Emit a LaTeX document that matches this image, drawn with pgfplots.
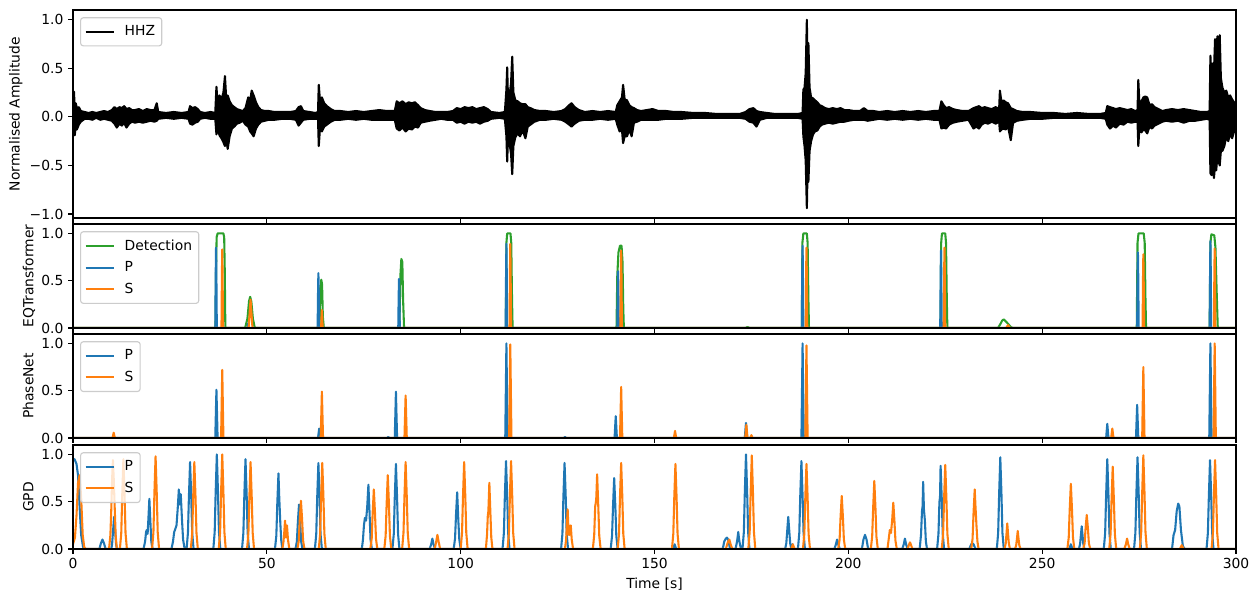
\documentclass[border=0pt]{standalone}
\usepackage{fontspec}
\setmainfont{DejaVu Sans}
\usepackage{pgfplots}
\pgfplotsset{compat=1.18}
\usepackage{pgfplotstable}
\definecolor{tabblue}{HTML}{1F77B4}
\definecolor{taborange}{HTML}{FF7F0E}
\definecolor{tabgreen}{HTML}{2CA02C}

\pgfplotstableread{
t u l
0.0 0.06 -0.04
0.25 0.26 -0.08
0.45 0.08 -0.19
0.7 0.14 -0.10
1.0 0.09 -0.13
1.5 0.10 -0.08
2.0 0.06 -0.05
3.0 0.05 -0.02
4.0 0.04 -0.02
5.0 0.05 -0.03
6.0 0.04 -0.01
7.0 0.05 -0.03
8.0 0.06 -0.02
9.0 0.05 -0.03
10.0 0.07 -0.04
10.7 0.10 -0.07
11.3 0.08 -0.11
12.0 0.10 -0.07
12.6 0.09 -0.09
13.2 0.11 -0.06
13.8 0.08 -0.11
14.5 0.09 -0.07
15.2 0.07 -0.05
16.0 0.07 -0.06
17.0 0.08 -0.05
18.0 0.06 -0.06
19.0 0.08 -0.05
20.0 0.07 -0.04
21.0 0.07 -0.05
21.6 0.14 -0.04
22.0 0.05 -0.02
24.0 0.04 -0.01
26.0 0.05 -0.02
28.0 0.04 -0.01
29.8 0.05 -0.02
30.2 0.11 -0.07
30.8 0.09 -0.08
31.5 0.10 -0.06
32.2 0.08 -0.05
32.8 0.05 -0.02
34.0 0.04 -0.01
35.5 0.05 -0.02
36.7 0.04 -0.02
37.0 0.31 -0.18
37.3 0.14 -0.12
37.8 0.22 -0.19
38.3 0.18 -0.22
38.8 0.25 -0.26
39.2 0.42 -0.30
39.5 0.20 -0.22
39.9 0.22 -0.33
40.4 0.16 -0.20
41.0 0.12 -0.12
41.6 0.10 -0.10
42.3 0.08 -0.07
43.0 0.07 -0.06
43.8 0.06 -0.04
44.5 0.09 -0.08
45.2 0.20 -0.10
45.7 0.17 -0.15
46.1 0.27 -0.17
46.6 0.22 -0.20
47.2 0.15 -0.12
47.8 0.10 -0.08
48.5 0.07 -0.05
49.5 0.06 -0.04
50.5 0.06 -0.03
52.0 0.05 -0.03
54.0 0.05 -0.02
56.0 0.05 -0.02
57.5 0.06 -0.03
58.2 0.10 -0.09
58.8 0.11 -0.06
59.4 0.06 -0.03
61.0 0.05 -0.02
62.5 0.04 -0.02
63.2 0.05 -0.02
63.4 0.33 -0.30
63.7 0.17 -0.12
64.2 0.20 -0.15
64.8 0.14 -0.10
65.5 0.11 -0.08
66.5 0.08 -0.05
67.5 0.06 -0.03
69.0 0.06 -0.03
71.0 0.05 -0.02
73.0 0.06 -0.03
75.0 0.05 -0.02
77.0 0.06 -0.03
79.0 0.07 -0.03
81.0 0.06 -0.03
83.0 0.06 -0.03
83.5 0.16 -0.12
84.2 0.14 -0.14
85.0 0.16 -0.11
85.8 0.13 -0.15
86.6 0.15 -0.12
87.4 0.14 -0.13
88.2 0.15 -0.10
89.0 0.12 -0.11
89.7 0.09 -0.06
90.8 0.07 -0.05
92.0 0.06 -0.04
93.5 0.05 -0.03
95.0 0.05 -0.02
96.5 0.05 -0.03
98.0 0.06 -0.03
99.0 0.09 -0.06
100.0 0.08 -0.05
101.0 0.10 -0.07
102.0 0.09 -0.05
103.0 0.10 -0.06
104.0 0.08 -0.05
105.0 0.09 -0.07
106.0 0.10 -0.05
107.0 0.08 -0.04
107.8 0.05 -0.02
110.0 0.04 -0.01
111.4 0.05 -0.02
111.8 0.28 -0.20
112.0 0.51 -0.46
112.2 0.20 -0.22
112.7 0.25 -0.30
113.0 0.35 -0.38
113.3 0.62 -0.59
113.6 0.25 -0.30
114.1 0.17 -0.21
114.7 0.16 -0.17
115.3 0.14 -0.20
116.0 0.13 -0.14
116.7 0.13 -0.22
117.3 0.10 -0.10
118.0 0.09 -0.08
119.0 0.07 -0.05
120.5 0.06 -0.03
122.0 0.06 -0.03
124.0 0.05 -0.02
126.0 0.06 -0.03
127.0 0.08 -0.05
128.0 0.12 -0.08
128.6 0.14 -0.10
129.4 0.10 -0.07
130.5 0.07 -0.04
132.0 0.05 -0.03
134.0 0.06 -0.03
136.0 0.05 -0.02
138.0 0.06 -0.03
140.0 0.05 -0.02
140.4 0.12 -0.08
141.0 0.16 -0.15
141.6 0.20 -0.13
141.9 0.33 -0.27
142.3 0.18 -0.20
142.9 0.17 -0.20
143.5 0.12 -0.13
144.1 0.10 -0.20
144.7 0.09 -0.06
145.5 0.07 -0.05
146.5 0.06 -0.03
148.0 0.07 -0.03
149.5 0.08 -0.03
151.0 0.06 -0.03
153.0 0.06 -0.02
155.0 0.05 -0.02
157.0 0.05 -0.02
160.0 0.04 -0.01
163.0 0.04 -0.01
166.0 0.03 -0.01
169.0 0.03 -0.01
172.0 0.03 -0.01
173.5 0.05 -0.02
174.5 0.08 -0.05
175.5 0.09 -0.06
176.3 0.06 -0.10
177.2 0.05 -0.03
179.0 0.04 -0.01
181.0 0.03 -0.01
183.0 0.03 -0.01
185.0 0.03 -0.01
187.0 0.03 -0.01
188.2 0.04 -0.02
188.4 0.28 -0.20
188.7 0.30 -0.30
189.0 0.45 -0.45
189.3 1.00 -0.94
189.5 0.40 -0.50
189.7 0.76 -0.67
190.0 0.30 -0.35
190.4 0.20 -0.25
190.9 0.19 -0.18
191.4 0.17 -0.15
192.0 0.15 -0.14
192.6 0.12 -0.10
193.2 0.11 -0.08
194.0 0.09 -0.07
195.0 0.08 -0.06
196.0 0.09 -0.07
197.0 0.08 -0.06
198.0 0.09 -0.05
199.0 0.07 -0.05
200.0 0.07 -0.04
201.5 0.06 -0.03
203.0 0.06 -0.03
204.0 0.09 -0.03
205.0 0.06 -0.04
206.5 0.06 -0.03
208.0 0.05 -0.02
210.0 0.06 -0.03
212.0 0.05 -0.02
214.0 0.06 -0.03
216.0 0.05 -0.02
218.0 0.06 -0.03
220.0 0.05 -0.02
222.0 0.06 -0.03
223.5 0.06 -0.03
224.0 0.16 -0.12
224.6 0.12 -0.11
225.2 0.09 -0.12
226.0 0.10 -0.08
227.0 0.08 -0.06
228.0 0.07 -0.05
229.5 0.06 -0.04
231.0 0.06 -0.03
232.3 0.09 -0.12
233.0 0.10 -0.10
233.7 0.11 -0.12
234.4 0.09 -0.08
235.2 0.10 -0.06
236.0 0.09 -0.07
237.0 0.08 -0.05
238.0 0.10 -0.07
238.9 0.08 -0.05
239.1 0.27 -0.15
239.5 0.15 -0.13
240.0 0.17 -0.12
240.6 0.15 -0.13
241.2 0.14 -0.10
241.9 0.09 -0.24
242.5 0.08 -0.06
243.5 0.06 -0.04
245.0 0.05 -0.03
247.0 0.05 -0.02
250.0 0.04 -0.02
253.0 0.04 -0.01
256.0 0.03 -0.01
259.0 0.04 -0.01
262.0 0.03 -0.01
265.0 0.03 -0.01
266.4 0.04 -0.02
266.8 0.11 -0.08
267.5 0.10 -0.12
268.3 0.09 -0.09
269.0 0.08 -0.11
270.0 0.09 -0.07
271.0 0.08 -0.08
272.0 0.07 -0.05
273.0 0.08 -0.06
274.0 0.06 -0.05
274.6 0.07 -0.05
274.8 0.38 -0.30
275.1 0.12 -0.10
275.6 0.16 -0.16
276.1 0.20 -0.13
276.6 0.21 -0.14
277.1 0.20 -0.17
277.7 0.12 -0.10
278.3 0.13 -0.12
279.0 0.10 -0.09
280.0 0.08 -0.07
281.0 0.06 -0.05
282.0 0.07 -0.04
283.5 0.08 -0.05
285.0 0.07 -0.04
286.5 0.08 -0.06
288.0 0.07 -0.04
289.5 0.06 -0.04
291.0 0.05 -0.03
292.5 0.05 -0.02
293.2 0.06 -0.03
293.4 0.63 -0.58
293.7 0.35 -0.60
294.0 0.55 -0.45
294.3 0.45 -0.63
294.6 0.80 -0.50
294.9 0.60 -0.55
295.2 0.83 -0.40
295.5 0.50 -0.45
295.8 0.84 -0.50
296.1 0.40 -0.35
296.5 0.30 -0.35
297.0 0.25 -0.30
297.5 0.27 -0.20
298.0 0.20 -0.25
298.5 0.22 -0.17
299.0 0.18 -0.22
299.5 0.15 -0.15
300.0 0.10 -0.12
}\hhz

\pgfplotsset{
 panel/.style={
  scale only axis, width=872.25pt, xmin=0, xmax=300,
  xtick={0,50,100,150,200,250,300}, xticklabels={},
  tick align=outside, xtick pos=bottom, ytick pos=left,
  major tick length=3.65pt,
  every tick/.style={black, line width=0.83pt},
  axis line style={line width=0.83pt},
  axis on top,
  font=\fontsize{10.4}{12.5}\selectfont,
  every axis y label/.style={at={(axis description cs:0,0.5)}, xshift=-29.8pt, rotate=90, anchor=base},
  every axis x label/.style={at={(axis description cs:0.5,0)}, yshift=-30pt, anchor=base},
  legend cell align=left,
  legend style={at={(0,1)}, anchor=north west, xshift=5.3pt, yshift=-5.4pt, draw=black!20, line width=0.83pt, rounded corners=2pt, fill=white, fill opacity=0.8, text opacity=1, font=\fontsize{10.4}{12.5}\selectfont, row sep=3pt, inner ysep=4pt, /tikz/every odd column/.append style={column sep=5.5pt}},
  legend image code/.code={\draw[line width=1.56pt,#1] (0pt,0pt) -- (21pt,0pt);},
  every axis plot/.append style={line width=1.56pt, line join=round},
 },
 small/.style={height=78pt, ymin=0, ymax=1.1, ytick={0,0.5,1}, yticklabels={0.0,0.5,1.0}},
}

\begin{document}
\begin{tikzpicture}

% Panel 1: seismogram
\begin{axis}[panel, at={(0pt,248.25pt)}, anchor=south west, height=156pt,
  ymin=-1.041, ymax=1.10, ytick={-1,-0.5,0,0.5,1}, yticklabels={−1.0,−0.5,0.0,0.5,1.0},
  ylabel={Normalised Amplitude},
  every axis y label/.style={at={(axis description cs:0,0.5)}, xshift=-40pt, rotate=90, anchor=base}]
\addplot[black, fill=black, forget plot] table[x=t,y=u]{\hhz} \closedcycle;
\addplot[black, fill=black, forget plot] table[x=t,y=l]{\hhz} \closedcycle;
\addlegendimage{black, line width=1.56pt}
\addlegendentry{HHZ}
\end{axis}

% Panel 2: EQTransformer
\begin{axis}[panel, small, at={(0pt,165.75pt)}, anchor=south west, ylabel={EQTransformer}]
\addplot[tabgreen] coordinates {(0,0)
(36.75,0)(36.9,0.6)(37.05,0.96)(37.3,1.0)(38.8,1.0)(39.0,0.96)(39.15,0.6)(39.3,0)
(44.4,0)(45.0,0.1)(45.4,0.28)(45.7,0.33)(46.0,0.28)(46.4,0.1)(46.9,0)
(63.6,0)(63.8,0.45)(63.95,0.43)(64.05,0.51)(64.25,0.46)(64.45,0.12)(64.7,0)
(84.2,0)(84.45,0.55)(84.7,0.73)(84.95,0.7)(85.15,0.3)(85.4,0)
(111.65,0)(111.8,0.9)(112.0,1.0)(112.85,1.0)(113.05,0.9)(113.25,0.3)(113.4,0)
(140.2,0)(140.4,0.55)(140.7,0.8)(141.1,0.87)(141.5,0.87)(141.75,0.7)(141.95,0.2)(142.1,0)
(173.4,0)(174.0,0.01)(174.6,0)
(188.0,0)(188.15,0.9)(188.4,1.0)(189.3,1.0)(189.5,0.9)(189.7,0.3)(189.85,0)
(223.8,0)(223.95,0.9)(224.15,1.0)(225.0,1.0)(225.2,0.9)(225.4,0.3)(225.55,0)
(238.6,0)(239.2,0.04)(239.7,0.08)(240.1,0.09)(240.6,0.07)(241.3,0.04)(241.9,0.01)(242.4,0)
(274.4,0)(274.6,0.9)(274.85,1.0)(276.2,1.0)(276.45,0.9)(276.65,0.3)(276.8,0)
(293.2,0)(293.4,0.9)(293.65,0.99)(294.4,0.98)(294.7,0.85)(295.0,0.4)(295.3,0)
(300,0)};
\addlegendentry{Detection}
\addplot[tabblue] coordinates {(0,0)
(36.7,0)(36.82,0.6)(36.9,0.85)(36.98,0.6)(37.1,0)
(45.0,0)(45.2,0.05)(45.4,0)
(63.1,0)(63.22,0.41)(63.3,0.58)(63.38,0.41)(63.5,0)
(83.9,0)(84.02,0.36)(84.1,0.52)(84.18,0.36)(84.3,0)
(111.6,0)(111.72,0.62)(111.8,0.89)(111.88,0.62)(112.0,0)
(140.4,0)(140.52,0.42)(140.6,0.6)(140.68,0.42)(140.8,0)
(188.0,0)(188.12,0.61)(188.2,0.87)(188.28,0.61)(188.4,0)
(223.7,0)(223.82,0.57)(223.9,0.82)(223.98,0.57)(224.1,0)
(274.5,0)(274.62,0.56)(274.7,0.8)(274.78,0.56)(274.9,0)
(293.2,0)(293.32,0.64)(293.4,0.92)(293.48,0.64)(293.6,0)
(300,0)};
\addlegendentry{P}
\addplot[taborange] coordinates {(0,0)
(38.3,0)(38.42,0.58)(38.5,0.83)(38.58,0.58)(38.7,0)
(45.3,0)(45.55,0.15)(45.8,0.3)(46.05,0.15)(46.3,0)
(64.0,0)(64.12,0.13)(64.2,0.19)(64.28,0.13)(64.4,0)
(112.6,0)(112.72,0.62)(112.8,0.89)(112.88,0.62)(113.0,0)
(141.2,0)(141.32,0.57)(141.4,0.82)(141.48,0.57)(141.6,0)
(189.0,0)(189.12,0.6)(189.2,0.85)(189.28,0.6)(189.4,0)
(224.6,0)(224.72,0.6)(224.8,0.85)(224.88,0.6)(225.0,0)
(240.7,0)(241.2,0.03)(241.7,0)
(275.9,0)(276.02,0.55)(276.1,0.78)(276.18,0.55)(276.3,0)
(294.3,0)(294.42,0.59)(294.5,0.84)(294.58,0.59)(294.7,0)
(300,0)};
\addlegendentry{S}
\end{axis}

% Panel 3: PhaseNet
\begin{axis}[panel, small, at={(0pt,83.25pt)}, anchor=south west, ylabel={PhaseNet}]
\addplot[tabblue] coordinates {(0,0)
(36.7,0)(36.88,0.31)(37.0,0.51)(37.12,0.31)(37.3,0)
(63.2,0)(63.38,0.06)(63.5,0.1)(63.62,0.06)(63.8,0)
(81.0,0)(81.3,0.012)(81.6,0)
(83.0,0)(83.18,0.29)(83.3,0.49)(83.42,0.29)(83.6,0)
(111.5,0)(111.68,0.6)(111.8,1.0)(111.92,0.6)(112.1,0)
(126.6,0)(126.9,0.012)(127.2,0)
(139.7,0)(139.88,0.14)(140.0,0.23)(140.12,0.14)(140.3,0)
(173.3,0)(173.48,0.1)(173.6,0.16)(173.72,0.1)(173.9,0)
(187.9,0)(188.08,0.6)(188.2,1.0)(188.32,0.6)(188.5,0)
(266.5,0)(266.68,0.09)(266.8,0.15)(266.92,0.09)(267.1,0)
(274.2,0)(274.38,0.21)(274.5,0.35)(274.62,0.21)(274.8,0)
(293.1,0)(293.28,0.6)(293.4,1.0)(293.52,0.6)(293.7,0)
(300,0)};
\addlegendentry{P}
\addplot[taborange] coordinates {(0,0)
(10.2,0)(10.38,0.034)(10.5,0.056)(10.62,0.034)(10.8,0)
(38.2,0)(38.38,0.43)(38.5,0.72)(38.62,0.43)(38.8,0)
(63.9,0)(64.08,0.29)(64.2,0.49)(64.32,0.29)(64.5,0)
(85.5,0)(85.68,0.27)(85.8,0.45)(85.92,0.27)(86.1,0)
(112.5,0)(112.68,0.59)(112.8,0.99)(112.92,0.59)(113.1,0)
(141.1,0)(141.28,0.32)(141.4,0.54)(141.52,0.32)(141.7,0)
(155.0,0)(155.18,0.045)(155.3,0.075)(155.42,0.045)(155.6,0)
(173.4,0)(173.58,0.08)(173.7,0.14)(173.82,0.08)(174.0,0)
(174.7,0)(175.0,0.03)(175.3,0)
(188.9,0)(189.08,0.59)(189.2,0.98)(189.32,0.59)(189.5,0)
(267.8,0)(267.98,0.06)(268.1,0.1)(268.22,0.06)(268.4,0)
(275.8,0)(275.98,0.45)(276.1,0.75)(276.22,0.45)(276.4,0)
(294.2,0)(294.38,0.6)(294.5,1.0)(294.62,0.6)(294.8,0)
(300,0)};
\addlegendentry{S}
\end{axis}

% Panel 4: GPD
\begin{axis}[panel, small, at={(0pt,0pt)}, anchor=south west, ylabel={GPD},
  xticklabels={0,50,100,150,200,250,300}, xlabel={Time [s]}]
\addplot[tabblue] coordinates {
(0,0.95)(0.4,0.95)(0.9,0.9)(1.3,0.78)(1.7,0.45)(2.1,0.15)(2.6,0.02)(3.0,0)
(6.8,0)(7.2,0.06)(7.6,0.1)(8.0,0.06)(8.4,0)
(9.9,0)(10.1,0.06)(10.35,0.2)(10.6,0.34)(10.85,0.2)(11.1,0.06)(11.3,0)
(18.2,0)(18.6,0.08)(18.85,0.18)(19.0,0.2)(19.25,0.16)(19.45,0.32)(19.7,0.53)(19.95,0.3)(20.2,0.08)(20.5,0)
(25.4,0)(25.8,0.08)(26.1,0.18)(26.3,0.2)(26.7,0.25)(27.0,0.42)(27.3,0.63)(27.55,0.47)(27.8,0.58)(28.1,0.32)(28.4,0.1)(28.8,0)
(29.3,0)(29.65,0.17)(29.9,0.55)(30.2,0.92)(30.5,0.55)(30.75,0.17)(31.1,0)
(36.2,0)(36.55,0.18)(36.8,0.6)(37.1,1.0)(37.4,0.6)(37.65,0.18)(38.0,0)
(43.6,0)(43.95,0.17)(44.2,0.57)(44.5,0.95)(44.8,0.57)(45.05,0.17)(45.4,0)
(52.1,0)(52.45,0.14)(52.7,0.48)(53.0,0.8)(53.2,0.55)(53.45,0.3)(53.7,0.1)(54.0,0)
(57.4,0)(57.75,0.08)(58.0,0.28)(58.3,0.47)(58.6,0.28)(58.85,0.08)(59.2,0)
(62.4,0)(62.75,0.16)(63.0,0.55)(63.3,0.91)(63.6,0.55)(63.85,0.16)(64.2,0)
(74.5,0)(74.8,0.1)(75.05,0.25)(75.3,0.33)(75.6,0.3)(75.9,0.45)(76.2,0.68)(76.5,0.38)(76.75,0.1)(77.1,0)
(82.4,0)(82.75,0.16)(83.0,0.54)(83.3,0.9)(83.6,0.54)(83.85,0.16)(84.2,0)
(92.0,0)(92.4,0.05)(92.7,0.11)(93.0,0.05)(93.4,0)
(98.2,0)(98.55,0.11)(98.8,0.36)(99.1,0.6)(99.4,0.3)(99.65,0.1)(100.0,0)
(110.8,0)(111.15,0.17)(111.4,0.56)(111.7,0.93)(112.0,0.56)(112.25,0.17)(112.6,0)
(125.9,0)(126.25,0.16)(126.5,0.55)(126.8,0.91)(127.1,0.55)(127.35,0.16)(127.7,0)
(138.7,0)(139.05,0.14)(139.3,0.45)(139.6,0.75)(139.9,0.45)(140.15,0.14)(140.5,0)
(154.8,0)(155.2,0.05)(155.6,0)
(167.6,0)(168.0,0.08)(168.4,0.11)(168.7,0.12)(169.0,0.1)(169.5,0)
(170.9,0)(171.3,0.08)(171.6,0.18)(171.9,0.08)(172.3,0)
(172.7,0)(173.05,0.18)(173.3,0.6)(173.6,1.0)(173.9,0.6)(174.15,0.18)(174.5,0)
(183.7,0)(184.0,0.06)(184.25,0.2)(184.5,0.34)(184.75,0.2)(185.0,0.06)(185.3,0)
(185.6,0.05)(185.9,0)
(187.0,0)(187.35,0.17)(187.6,0.56)(187.9,0.93)(188.2,0.56)(188.45,0.17)(188.8,0)
(196.4,0)(196.8,0.05)(197.1,0.1)(197.4,0.05)(197.8,0)
(203.5,0)(203.9,0.1)(204.3,0.15)(204.7,0.1)(205.1,0)
(213.9,0)(214.3,0.05)(214.6,0.11)(214.9,0.05)(215.3,0)
(218.4,0)(218.75,0.15)(219.0,0.4)(219.15,0.45)(219.3,0.71)(219.5,0.42)(219.75,0.3)(220.0,0.08)(220.3,0)
(222.9,0)(223.25,0.16)(223.5,0.5)(223.65,0.55)(223.8,0.88)(224.1,0.53)(224.35,0.16)(224.7,0)
(231.2,0)(231.7,0.05)(232.0,0.06)(232.3,0.05)(232.8,0)
(238.3,0)(238.65,0.17)(238.9,0.58)(239.2,0.97)(239.5,0.58)(239.75,0.17)(240.1,0)
(257.0,0)(257.4,0.05)(257.8,0)
(259.5,0)(259.8,0.06)(260.0,0.15)(260.2,0.24)(260.4,0.15)(260.6,0.06)(260.9,0)
(265.9,0)(266.25,0.17)(266.5,0.57)(266.8,0.95)(267.1,0.57)(267.35,0.17)(267.7,0)
(273.7,0)(274.05,0.17)(274.3,0.58)(274.6,0.97)(274.9,0.58)(275.15,0.17)(275.5,0)
(283.5,0)(283.9,0.15)(284.3,0.2)(284.7,0.4)(285.1,0.48)(285.4,0.45)(285.8,0.2)(286.3,0.03)(286.8,0)
(292.4,0)(292.75,0.17)(293.0,0.56)(293.3,0.94)(293.6,0.56)(293.85,0.17)(294.2,0)
(300,0)};
\addlegendentry{P}
\addplot[taborange] coordinates {
(0,0.05)(0.5,0.12)(0.9,0.35)(1.3,0.7)(1.7,0.78)(2.1,0.55)(2.5,0.15)(2.9,0.02)(3.3,0)
(9.3,0)(9.65,0.15)(9.9,0.45)(10.1,0.75)(10.3,0.94)(10.5,0.75)(10.75,0.45)(11.0,0.15)(11.3,0)
(12.1,0)(12.45,0.17)(12.7,0.57)(13.0,0.95)(13.3,0.57)(13.55,0.17)(13.9,0)
(20.4,0)(20.75,0.18)(21.0,0.59)(21.3,0.98)(21.6,0.59)(21.85,0.18)(22.2,0)
(30.4,0)(30.75,0.17)(31.0,0.55)(31.3,0.92)(31.6,0.55)(31.85,0.17)(32.2,0)
(37.6,0)(37.95,0.18)(38.2,0.6)(38.5,1.0)(38.8,0.6)(39.05,0.18)(39.4,0)
(44.9,0)(45.25,0.17)(45.5,0.55)(45.8,0.92)(46.1,0.55)(46.35,0.17)(46.7,0)
(54.0,0)(54.3,0.08)(54.5,0.18)(54.7,0.3)(54.95,0.12)(55.2,0.25)(55.45,0.1)(55.8,0)
(57.9,0)(58.25,0.09)(58.5,0.31)(58.8,0.51)(59.1,0.31)(59.35,0.09)(59.7,0)
(63.4,0)(63.75,0.16)(64.0,0.55)(64.3,0.91)(64.6,0.55)(64.85,0.16)(65.2,0)
(76.7,0)(77.05,0.11)(77.3,0.38)(77.6,0.63)(77.9,0.38)(78.15,0.11)(78.5,0)
(80.3,0)(80.65,0.14)(80.9,0.47)(81.2,0.78)(81.5,0.47)(81.75,0.14)(82.1,0)
(84.9,0)(85.25,0.17)(85.5,0.55)(85.8,0.92)(86.1,0.55)(86.35,0.17)(86.7,0)
(93.3,0)(93.7,0.08)(94.0,0.15)(94.3,0.08)(94.7,0)
(100.0,0)(100.35,0.17)(100.6,0.55)(100.9,0.92)(101.2,0.55)(101.45,0.17)(101.8,0)
(106.5,0)(106.8,0.15)(107.0,0.35)(107.15,0.4)(107.4,0.7)(107.65,0.4)(107.9,0.12)(108.2,0)
(112.1,0)(112.45,0.17)(112.7,0.56)(113.0,0.93)(113.3,0.56)(113.55,0.17)(113.9,0)
(126.9,0)(127.2,0.1)(127.4,0.25)(127.6,0.42)(127.85,0.15)(128.1,0.15)(128.4,0.25)(128.65,0.1)(129.0,0)
(134.1,0)(134.45,0.15)(134.7,0.45)(134.9,0.5)(135.0,0.55)(135.2,0.79)(135.5,0.45)(135.75,0.14)(136.1,0)
(140.5,0)(140.85,0.16)(141.1,0.55)(141.4,0.91)(141.7,0.55)(141.95,0.16)(142.3,0)
(154.5,0)(154.85,0.16)(155.1,0.54)(155.4,0.9)(155.7,0.54)(155.95,0.16)(156.3,0)
(168.4,0)(168.9,0.07)(169.3,0.1)(169.7,0.04)(170.1,0)
(174.2,0)(174.55,0.18)(174.8,0.59)(175.1,0.99)(175.4,0.59)(175.65,0.18)(176.0,0)
(185.3,0)(185.7,0.05)(186.1,0)
(188.3,0)(188.65,0.16)(188.9,0.54)(189.2,0.9)(189.5,0.54)(189.75,0.16)(190.1,0)
(197.4,0)(197.75,0.1)(198.0,0.34)(198.3,0.56)(198.6,0.34)(198.85,0.1)(199.2,0)
(205.8,0)(206.15,0.13)(206.4,0.43)(206.7,0.72)(207.0,0.43)(207.25,0.13)(207.6,0)
(210.1,0)(210.4,0.1)(210.7,0.2)(211.0,0.17)(211.3,0.3)(211.6,0.49)(211.9,0.29)(212.15,0.09)(212.5,0)
(215.3,0)(215.6,0.04)(215.9,0.07)(216.2,0.04)(216.5,0)
(224.1,0)(224.45,0.16)(224.7,0.53)(225.0,0.89)(225.3,0.53)(225.55,0.16)(225.9,0)
(231.7,0)(232.05,0.11)(232.3,0.38)(232.6,0.63)(232.8,0.45)(233.05,0.25)(233.3,0.08)(233.6,0)
(240.3,0)(240.6,0.06)(240.8,0.16)(241.0,0.27)(241.2,0.16)(241.4,0.06)(241.7,0)
(243.0,0)(243.3,0.04)(243.5,0.11)(243.7,0.19)(243.9,0.11)(244.1,0.04)(244.4,0)
(256.5,0)(256.85,0.12)(257.1,0.41)(257.4,0.69)(257.7,0.41)(257.95,0.12)(258.3,0)
(260.6,0)(260.95,0.06)(261.2,0.22)(261.5,0.36)(261.8,0.22)(262.05,0.06)(262.4,0)
(267.3,0)(267.65,0.16)(267.9,0.52)(268.2,0.87)(268.5,0.52)(268.75,0.16)(269.1,0)
(271.2,0)(271.6,0.05)(271.9,0.11)(272.2,0.05)(272.6,0)
(275.2,0)(275.55,0.18)(275.8,0.59)(276.1,0.99)(276.4,0.59)(276.65,0.18)(277.0,0)
(285.5,0)(286.0,0.04)(286.5,0)
(293.7,0)(294.05,0.17)(294.3,0.56)(294.6,0.94)(294.9,0.56)(295.15,0.17)(295.5,0)
(300,0)};
\addlegendentry{S}
\end{axis}
\path (-54.75pt,-39.75pt) rectangle (888.75pt,411.75pt);
\end{tikzpicture}
\end{document}
